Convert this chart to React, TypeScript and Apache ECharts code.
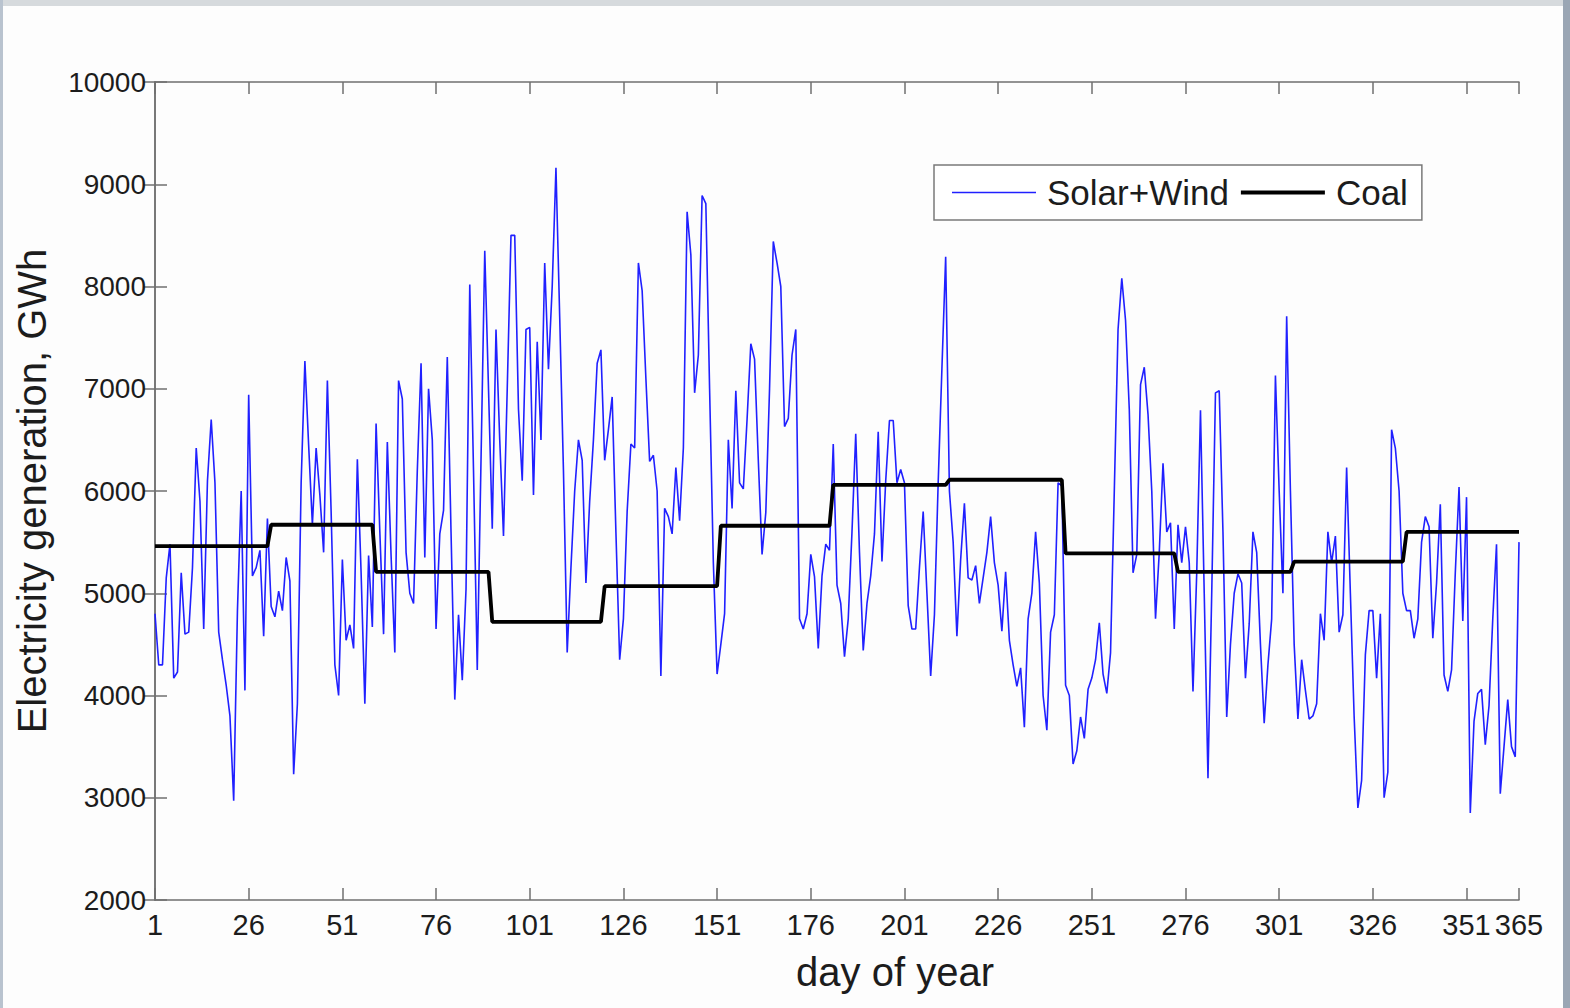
import React, { useEffect, useRef } from "react";
import * as echarts from "echarts";

// Daily renewable output (GWh), day 1 .. 365
const solarWind: number[] = [
  4800, 4300, 4300, 5150, 5480, 4170, 4230, 5200, 4600, 4620,
  5250, 6420, 5900, 4650, 6100, 6700, 6080, 4620, 4350, 4100,
  3800, 2970, 4830, 6000, 4050, 6940, 5170, 5250, 5420, 4580,
  5730, 4870, 4770, 5020, 4830, 5350, 5120, 3230, 3920, 6080,
  7270, 6450, 5670, 6420, 5960, 5400, 7080, 5800, 4300, 4000,
  5330, 4540, 4690, 4460, 6310, 5200, 3920, 5370, 4670, 6660,
  5600, 4600, 6480, 5370, 4420, 7080, 6900, 5400, 5000, 4900,
  6200, 7250, 5350, 7000, 6500, 4650, 5580, 5810, 7310, 5600,
  3960, 4790, 4150, 5040, 8020, 6200, 4250, 6300, 8350, 7000,
  5630, 7580, 6500, 5560, 7000, 8500, 8500, 6800, 6100, 7580,
  7600, 5960, 7460, 6500, 8230, 7190, 8000, 9160, 7700, 6200,
  4420, 5250, 6000, 6500, 6300, 5100, 5900, 6500, 7250, 7380,
  6300, 6600, 6920, 5600, 4350, 4750, 5800, 6460, 6420, 8230,
  7960, 7100, 6290, 6350, 6000, 4190, 5830, 5750, 5580, 6230,
  5710, 6420, 8730, 8310, 6960, 7330, 8890, 8810, 7000, 5300,
  4210, 4500, 4800, 6500, 5830, 6980, 6080, 6020, 6700, 7440,
  7290, 6300, 5380, 5790, 7000, 8440, 8230, 8000, 6630, 6710,
  7330, 7580, 4750, 4650, 4800, 5380, 5160, 4460, 5170, 5480,
  5420, 6460, 5080, 4900, 4380, 4750, 5600, 6560, 5400, 4440,
  4900, 5170, 5580, 6580, 5310, 6100, 6690, 6690, 6080, 6210,
  6080, 4880, 4650, 4650, 5250, 5800, 5000, 4190, 4790, 6080,
  7200, 8290, 6000, 5500, 4580, 5330, 5880, 5150, 5130, 5270,
  4900, 5150, 5400, 5750, 5300, 5080, 4630, 5210, 4540, 4300,
  4090, 4270, 3690, 4750, 5000, 5600, 5100, 4000, 3660, 4620,
  4790, 6080, 6050, 4100, 4000, 3330, 3460, 3790, 3580, 4060,
  4170, 4350, 4710, 4210, 4020, 4420, 6000, 7580, 8080, 7670,
  6800, 5200, 5380, 7040, 7210, 6750, 6000, 4750, 5400, 6270,
  5600, 5690, 4650, 5670, 5300, 5650, 5300, 4040, 5200, 6790,
  5000, 3190, 5000, 6960, 6980, 5600, 3790, 4500, 5000, 5190,
  5100, 4170, 4700, 5600, 5400, 4500, 3730, 4300, 4750, 7130,
  6000, 5000, 7710, 6000, 4500, 3770, 4350, 4050, 3770, 3800,
  3920, 4800, 4540, 5600, 5300, 5560, 4620, 4790, 6230, 5000,
  3800, 2900, 3170, 4400, 4830, 4830, 4170, 4800, 3000, 3250,
  6600, 6420, 6000, 5000, 4830, 4830, 4560, 4750, 5500, 5750,
  5650, 4560, 5100, 5870, 4200, 4040, 4250, 5200, 6040, 4730,
  5940, 2850, 3750, 4020, 4060, 3520, 3900, 4750, 5480, 3040,
  3500, 3960, 3500, 3400, 5500,
];

// Coal output held constant through each month (GWh/day)
const monthDays: number[] = [31, 28, 31, 30, 31, 30, 31, 31, 30, 31, 30, 31];
const coalMonthly: number[] = [5460, 5670, 5210, 4720, 5070, 5660, 6060, 6110, 5390, 5210, 5310, 5600];

const seriesNames: string[] = ["Solar+Wind", "Coal"];
const xAxisTitle = "day of year";
const yAxisTitle = "Electricity generation, GWh";

const FONT = "Arial, 'Liberation Sans', sans-serif";
const AXIS_GRAY = "#6f6f6f";
const TEXT = "#1c1c1c";

const SW_COLOR = "#2020ff";
const SW_WIDTH = 1.6;
const COAL_COLOR = "#000000";
const COAL_WIDTH = 3.8;

function coalDaily(): number[] {
  const out: number[] = [];
  monthDays.forEach((n, m) => {
    for (let k = 0; k < n; k++) out.push(coalMonthly[m]);
  });
  return out;
}

// thin horizontal bar used as a legend key, drawn at the series' line width
function barIcon(h: number): string {
  return `path://M0,0L84,0L84,${h}L0,${h}Z`;
}

export default function App() {
  const ref = useRef<HTMLDivElement>(null);

  useEffect(() => {
    if (!ref.current) return;
    const chart = echarts.init(ref.current, undefined, { renderer: "svg" });

    const coal = coalDaily();
    // x is stored as day-1 so that ticks land on 1, 26, 51, ...
    const swData = solarWind.map((v, i) => [i, v]);
    const coalData = coal.map((v, i) => [i, v]);

    const frameAxis = {
      axisLine: { show: true, lineStyle: { color: AXIS_GRAY, width: 1.5 } },
      axisTick: { show: true, inside: true, length: 12, lineStyle: { color: AXIS_GRAY, width: 1.5 } },
      splitLine: { show: false },
    };

    chart.setOption({
      animation: false,
      backgroundColor: "#fdfdfd",
      graphic: [
        { type: "rect", shape: { x: 0, y: 0, width: 1570, height: 6 }, style: { fill: "#d6dadd" }, silent: true },
        { type: "rect", shape: { x: 0, y: 0, width: 3, height: 1008 }, style: { fill: "#b9c3cf" }, silent: true },
        { type: "rect", shape: { x: 1563, y: 0, width: 7, height: 1008 }, style: { fill: "#9aa6b4" }, silent: true },
        {
          type: "text",
          x: 895,
          y: 972,
          style: {
            text: xAxisTitle,
            fontSize: 40,
            fontFamily: FONT,
            fill: TEXT,
            textAlign: "center",
            textVerticalAlign: "middle",
          },
          silent: true,
        },
        {
          type: "text",
          x: 32,
          y: 491,
          rotation: Math.PI / 2,
          style: {
            text: yAxisTitle,
            fontSize: 40,
            fontFamily: FONT,
            fill: TEXT,
            textAlign: "center",
            textVerticalAlign: "middle",
          },
          silent: true,
        },
      ],
      grid: { left: 155, right: 51, top: 82, bottom: 108 },
      xAxis: [
        {
          type: "value",
          min: 0,
          max: 364,
          interval: 25,
          position: "bottom",
          axisLabel: {
            formatter: (v: number) => String(v + 1),
            fontSize: 29,
            color: TEXT,
            margin: 10,
            fontFamily: FONT,
            showMaxLabel: true,
            showMinLabel: true,
          },
          ...frameAxis,
        },
        {
          type: "value",
          min: 0,
          max: 364,
          interval: 25,
          position: "top",
          axisLabel: { show: false },
          ...frameAxis,
        },
      ],
      yAxis: [
        {
          type: "value",
          min: 2000,
          max: 10000,
          interval: 1000,
          position: "left",
          axisLabel: {
            formatter: (v: number) => String(v),
            fontSize: 28,
            color: TEXT,
            margin: 9,
            fontFamily: FONT,
          },
          ...frameAxis,
        },
        {
          type: "value",
          min: 2000,
          max: 10000,
          interval: 1000,
          position: "right",
          axisLabel: { show: false },
          ...frameAxis,
        },
      ],
      legend: {
        data: [
          { name: seriesNames[0], icon: barIcon(SW_WIDTH) },
          { name: seriesNames[1], icon: barIcon(COAL_WIDTH) },
        ],
        left: 934,
        top: 165,
        orient: "horizontal",
        padding: [10, 14, 10, 18],
        itemWidth: 84,
        itemHeight: 14,
        itemGap: 12,
        borderColor: "#7a7a7a",
        borderWidth: 1.5,
        backgroundColor: "#ffffff",
        textStyle: { fontSize: 35, color: TEXT, fontFamily: FONT, padding: [0, 0, 0, 6] },
      },
      series: [
        {
          name: seriesNames[0],
          type: "line",
          data: swData,
          symbol: "none",
          xAxisIndex: 0,
          yAxisIndex: 0,
          lineStyle: { color: SW_COLOR, width: SW_WIDTH },
          itemStyle: { color: SW_COLOR },
          z: 2,
        },
        {
          name: seriesNames[1],
          type: "line",
          data: coalData,
          symbol: "none",
          xAxisIndex: 0,
          yAxisIndex: 0,
          lineStyle: { color: COAL_COLOR, width: COAL_WIDTH },
          itemStyle: { color: COAL_COLOR },
          z: 3,
        },
      ],
    });

    return () => chart.dispose();
  }, []);

  return (
    <div
      ref={ref}
      style={{ position: "fixed", left: 0, top: 0, width: 1570, height: 1008 }}
    />
  );
}
